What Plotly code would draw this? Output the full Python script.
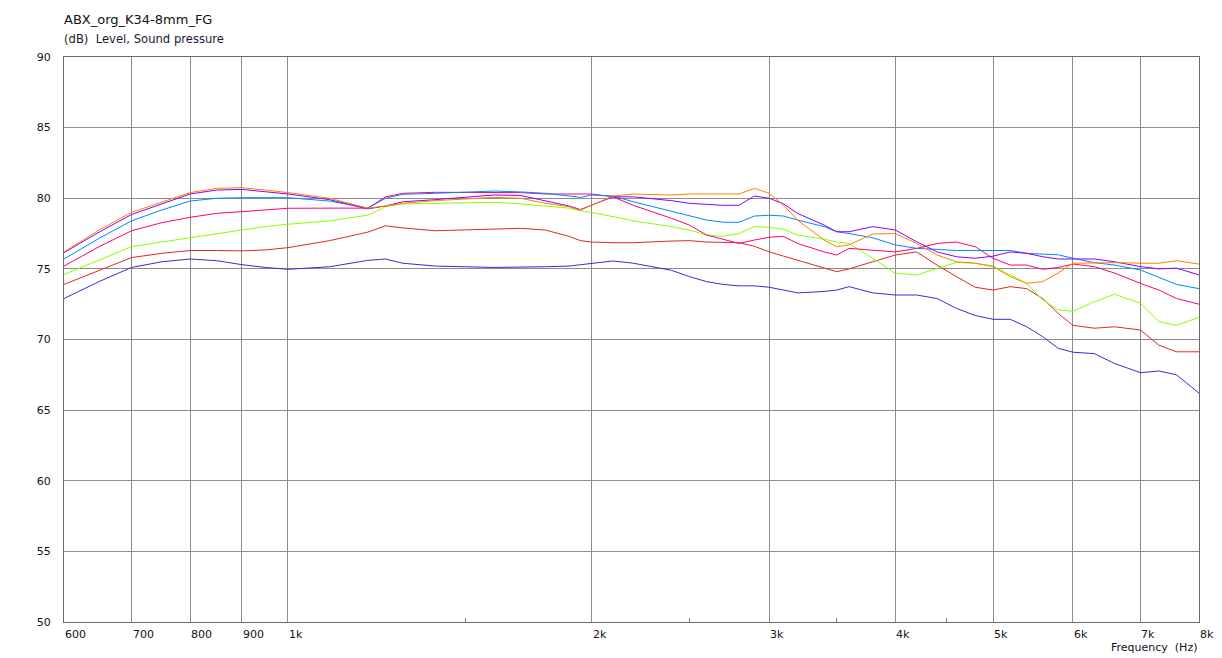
import math
import plotly.graph_objects as go

# ---------------- data ----------------
freqs = [600, 650, 700, 750, 800, 850, 900, 950, 1000, 1100, 1200, 1250, 1300, 1400,
         1600, 1700, 1800, 1900, 1950, 2000, 2100, 2200, 2400, 2500, 2600, 2700, 2800,
         2900, 3000, 3100, 3200, 3400, 3500, 3600, 3800, 4000, 4200, 4400, 4600, 4800,
         5000, 5200, 5400, 5600, 5800, 6000, 6300, 6600, 7000, 7300, 7600, 8000]

orange = [76.2, 77.75, 79.0, 79.75, 80.4, 80.7, 80.75, 80.58, 80.4, 80.0, 79.3, 79.45, 79.64, 79.83,
          80.06, 80.0, 79.64, 79.4, 79.15, 79.5, 80.16, 80.3, 80.23, 80.3, 80.3, 80.3, 80.3,
          80.7, 80.35, 79.5, 78.46, 77.04, 76.57, 76.7, 77.47, 77.5, 76.8, 75.98, 75.5, 75.4,
          75.16, 74.45, 73.97, 74.1, 74.7, 75.4, 75.44, 75.44, 75.4, 75.4, 75.58, 75.34]

purple = [76.15, 77.6, 78.85, 79.6, 80.3, 80.58, 80.63, 80.46, 80.3, 79.9, 79.25, 79.45, 79.75, 79.9,
          80.23, 80.2, 79.83, 79.45, 79.2, 79.5, 80.1, 80.1, 79.83, 79.64, 79.55, 79.5, 79.5,
          80.16, 80.0, 79.6, 78.93, 78.1, 77.63, 77.63, 77.99, 77.75, 76.92, 76.2, 75.86, 75.75,
          75.9, 76.2, 76.1, 75.86, 75.7, 75.7, 75.7, 75.5, 75.16, 75.0, 75.05, 74.57]

blue = [75.7, 77.16, 78.4, 79.17, 79.8, 80.0, 80.04, 80.04, 80.04, 79.8, 79.3, 80.0, 80.28, 80.35,
        80.51, 80.45, 80.35, 80.16, 80.06, 80.23, 80.16, 79.75, 79.05, 78.74, 78.46, 78.3, 78.3,
        78.74, 78.8, 78.74, 78.46, 77.99, 77.63, 77.5, 77.2, 76.7, 76.45, 76.38, 76.3, 76.3,
        76.3, 76.3, 76.1, 76.05, 76.0, 75.75, 75.44, 75.27, 74.92, 74.4, 73.9, 73.6]

pink = [75.2, 76.57, 77.7, 78.27, 78.65, 78.93, 79.05, 79.2, 79.29, 79.3, 79.3, 80.1, 80.35, 80.42,
        80.42, 80.4, 80.3, 80.28, 80.28, 80.3, 80.1, 79.5, 78.58, 78.1, 77.4, 77.1, 76.8,
        77.04, 77.24, 77.3, 76.8, 76.2, 75.98, 76.45, 76.3, 76.2, 76.45, 76.8, 76.9, 76.57,
        75.75, 75.27, 75.27, 74.97, 75.1, 75.34, 75.16, 74.7, 73.97, 73.5, 72.9, 72.5]

green = [74.6, 75.6, 76.57, 76.9, 77.2, 77.5, 77.8, 78.0, 78.16, 78.4, 78.8, 79.4, 79.6, 79.64,
         79.71, 79.6, 79.45, 79.3, 79.1, 79.0, 78.7, 78.4, 77.99, 77.75, 77.4, 77.3, 77.5,
         78.0, 77.94, 77.8, 77.4, 77.1, 76.9, 76.8, 75.75, 74.7, 74.57, 75.04, 75.46, 75.4,
         75.2, 74.57, 73.97, 72.8, 72.1, 72.0, 72.68, 73.2, 72.56, 71.26, 71.0, 71.57]

red = [73.9, 74.9, 75.8, 76.1, 76.3, 76.3, 76.27, 76.34, 76.5, 77.0, 77.6, 78.05, 77.9, 77.7,
       77.8, 77.87, 77.75, 77.3, 77.0, 76.9, 76.85, 76.85, 76.97, 77.0, 76.9, 76.88, 76.85,
       76.6, 76.2, 75.9, 75.6, 75.04, 74.8, 75.0, 75.5, 75.98, 76.2, 75.27, 74.45, 73.7,
       73.5, 73.74, 73.6, 72.9, 71.85, 71.0, 70.8, 70.9, 70.67, 69.6, 69.13, 69.13]

darkblue = [72.9, 74.1, 75.1, 75.5, 75.7, 75.58, 75.3, 75.1, 74.97, 75.15, 75.6, 75.7, 75.4, 75.2,
            75.1, 75.1, 75.15, 75.2, 75.3, 75.4, 75.56, 75.4, 74.9, 74.45, 74.1, 73.9, 73.8,
            73.8, 73.7, 73.5, 73.3, 73.4, 73.5, 73.74, 73.3, 73.15, 73.15, 72.9, 72.2, 71.7,
            71.43, 71.43, 70.9, 70.2, 69.38, 69.1, 69.0, 68.3, 67.65, 67.77, 67.5, 66.2]

series_names = ["orange", "purple", "blue", "pink", "green", "red", "darkblue"]
series_values = [orange, purple, blue, pink, green, red, darkblue]
series_colors = ["#FF8000", "#8C00FF", "#0088FF", "#FF0077", "#88FF00", "#E02828", "#2E2EDD"]

x_tick_vals = [600, 700, 800, 900, 1000, 2000, 3000, 4000, 5000, 6000, 7000, 8000]
x_tick_text = ["600", "700", "800", "900", "1k", "2k", "3k", "4k", "5k", "6k", "7k", "8k"]
x_minor_vals = [1500, 2500, 3500, 4500]
y_tick_vals = [50, 55, 60, 65, 70, 75, 80, 85, 90]

title_text = "ABX_org_K34-8mm_FG"
subtitle_text = "(dB)  Level, Sound pressure"
xaxis_title = "Frequency  (Hz)"

FONT = "DejaVu Sans"
GRID = "#8c8c8c"

fig = go.Figure()
# draw bottom curves first so the upper ones overlay like the original
for name, vals, col in reversed(list(zip(series_names, series_values, series_colors))):
    fig.add_trace(go.Scatter(x=freqs, y=vals, mode="lines", name=name,
                             line=dict(color=col, width=1), showlegend=False,
                             hoverinfo="skip"))

annotations = []
for v, t in zip(x_tick_vals, x_tick_text):
    annotations.append(dict(x=math.log10(v), xref="x", y=0, yref="paper",
                            text=t, showarrow=False, xanchor="left", yanchor="middle",
                            yshift=-12, xshift=-1,
                            font=dict(family=FONT, size=11, color="#111122")))
annotations.append(dict(x=0, xref="paper", y=1, yref="paper", text=title_text,
                        showarrow=False, xanchor="left", yanchor="middle", yshift=38, xshift=-2,
                        font=dict(family=FONT, size=13, color="#111111")))
annotations.append(dict(x=0, xref="paper", y=1, yref="paper", text=subtitle_text,
                        showarrow=False, xanchor="left", yanchor="middle", yshift=18, xshift=-2,
                        font=dict(family=FONT, size=11.6, color="#1a1a33")))
annotations.append(dict(x=1, xref="paper", y=0, yref="paper", text=xaxis_title,
                        showarrow=False, xanchor="right", yanchor="middle", yshift=-25,
                        font=dict(family=FONT, size=11, color="#111122")))

# the page body adds an 8px offset, so the figure is 8px smaller and its margins shifted
fig.update_layout(
    width=1214, height=650,
    margin=dict(l=56, r=23, t=49, b=36),
    paper_bgcolor="white", plot_bgcolor="white",
    annotations=annotations,
    xaxis=dict(type="log", range=[math.log10(600), math.log10(8000)],
               tickvals=x_tick_vals, showticklabels=False, ticks="",
               showgrid=True, gridcolor=GRID, gridwidth=1,
               showline=True, linecolor="#6a6a6a", linewidth=1, mirror=True,
               zeroline=False,
               minor=dict(tickvals=x_minor_vals, ticks="inside", ticklen=4,
                          tickcolor="#808080", showgrid=False)),
    yaxis=dict(range=[50, 90], tickvals=y_tick_vals, ticks="",
               ticklabelstandoff=10,
               tickfont=dict(family=FONT, size=11, color="#111122"),
               showgrid=True, gridcolor=GRID, gridwidth=1,
               showline=True, linecolor="#6a6a6a", linewidth=1, mirror=True,
               zeroline=False),
)

fig.write_html("out.html")
